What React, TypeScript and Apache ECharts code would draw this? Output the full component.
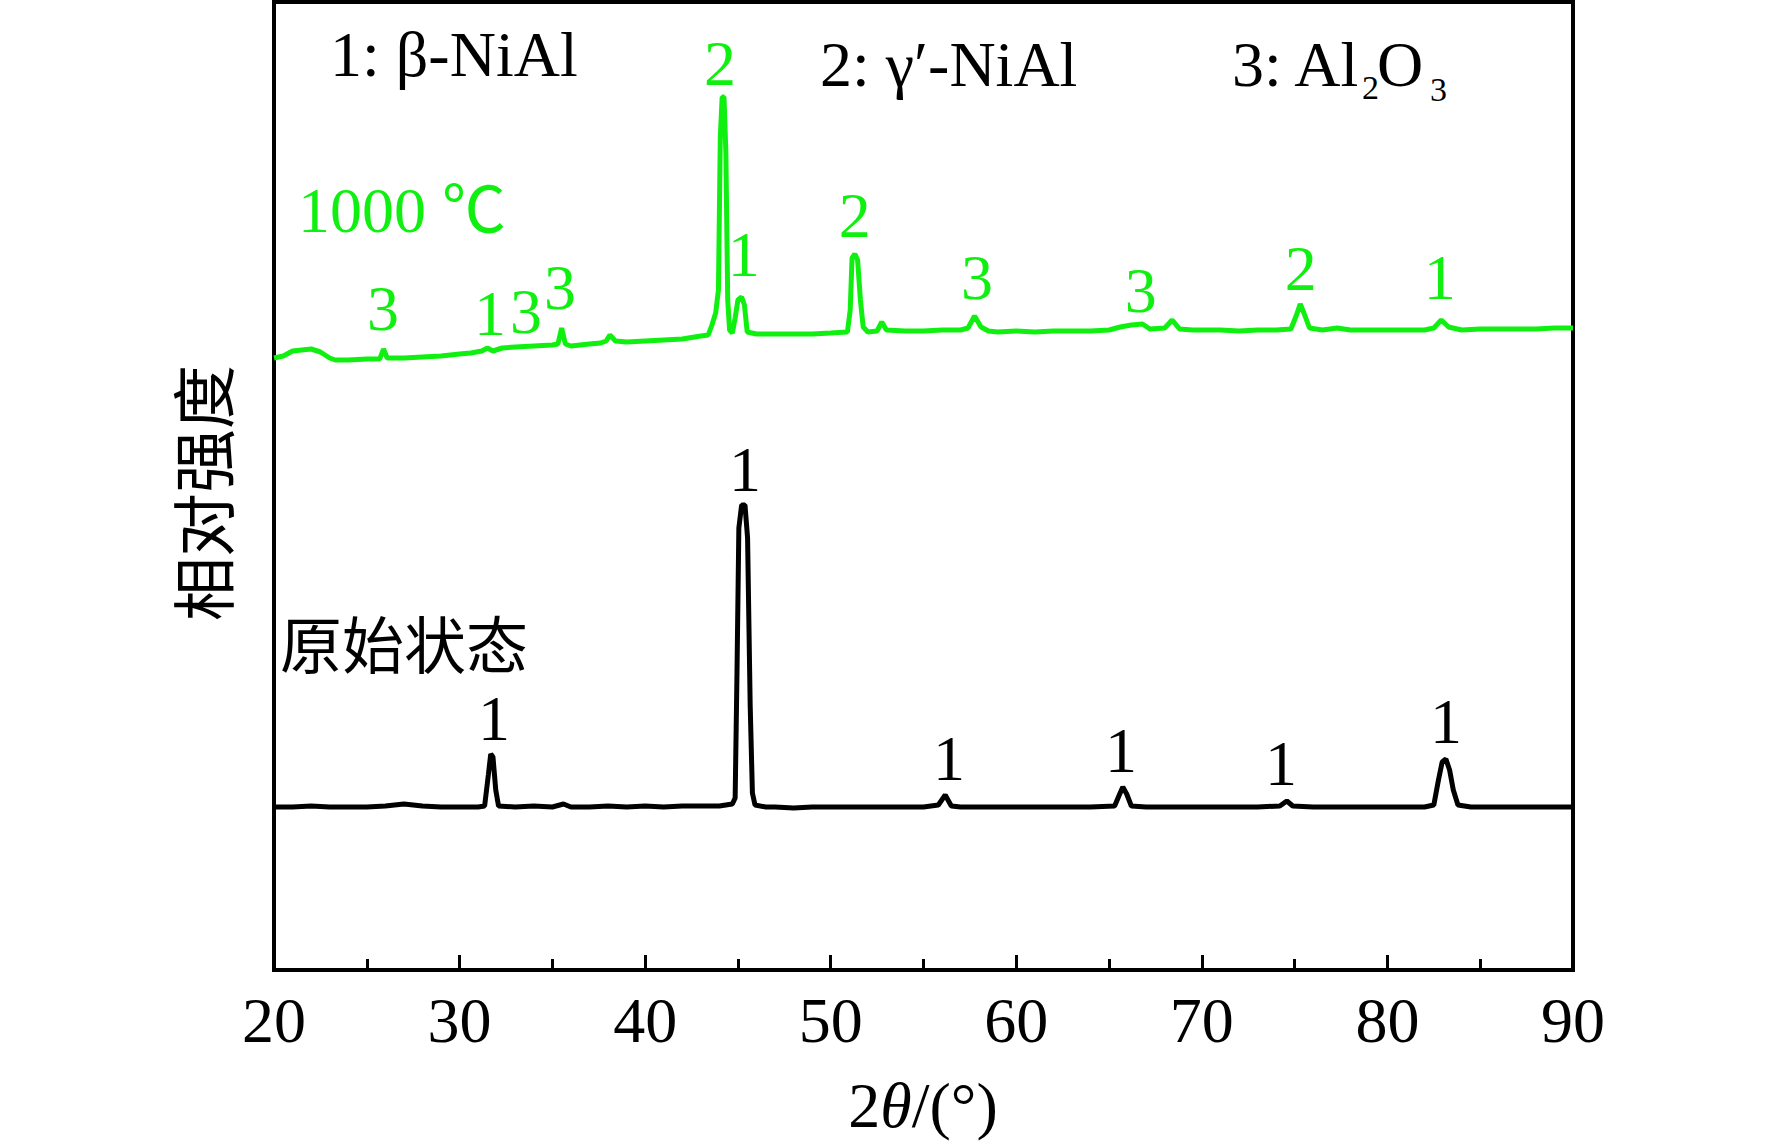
import React, { useEffect, useRef } from "react";
import * as echarts from "echarts";

// 2θ (degrees) and relative intensity (arbitrary units)
const green1000: [number, number][] = [
  [20.0, 612], [20.5, 614], [21.0, 619], [21.5, 620], [22.0, 621], [22.5, 618], [23.0, 612], [23.3, 610],
  [24.0, 610], [25.0, 611], [25.7, 611], [25.9, 621], [26.1, 612], [27.0, 612], [28.0, 613], [29.0, 614],
  [30.0, 616], [30.6, 617], [31.2, 619], [31.5, 622], [31.8, 619], [32.3, 622], [33.0, 623], [34.0, 624],
  [35.0, 625], [35.3, 626], [35.5, 642], [35.7, 626], [36.0, 624], [37.0, 626], [37.6, 627], [37.9, 629],
  [38.1, 635], [38.4, 629], [39.0, 628], [40.0, 629], [41.0, 630], [42.0, 631], [43.0, 634], [43.4, 635],
  [43.6, 645], [43.8, 657], [43.95, 680], [44.05, 833], [44.15, 873], [44.25, 873], [44.35, 818],
  [44.45, 670], [44.55, 640], [44.7, 637], [44.85, 652], [45.0, 670], [45.2, 673], [45.35, 665],
  [45.5, 638], [46.0, 636], [47.0, 636], [48.0, 636], [49.0, 636], [50.0, 637], [50.9, 638],
  [51.05, 660], [51.15, 712], [51.3, 716], [51.45, 710], [51.6, 670], [51.75, 643], [52.0, 638],
  [52.5, 639], [52.75, 648], [53.0, 640], [54.0, 639], [55.0, 639], [56.0, 640], [57.0, 640],
  [57.4, 642], [57.75, 654], [58.1, 643], [58.5, 639], [59.0, 638], [60.0, 639], [61.0, 638],
  [62.0, 639], [63.0, 639], [64.0, 639], [65.0, 640], [65.6, 643], [66.2, 645], [66.8, 646],
  [67.2, 641], [68.0, 642], [68.4, 650], [68.8, 641], [69.5, 640], [70.0, 640], [71.0, 640],
  [72.0, 639], [73.0, 640], [74.0, 640], [74.8, 641], [75.1, 655], [75.3, 666], [75.5, 657],
  [75.8, 642], [76.5, 640], [77.3, 642], [78.0, 640], [79.0, 640], [80.0, 640], [81.0, 640],
  [82.0, 640], [82.5, 642], [82.9, 650], [83.3, 643], [84.0, 640], [85.0, 641], [86.0, 641],
  [87.0, 641], [88.0, 641], [89.0, 642], [90.0, 642],
];

const blackOriginal: [number, number][] = [
  [20.0, 163], [21.0, 163], [22.0, 164], [23.0, 163], [24.0, 163], [25.0, 163], [26.0, 164],
  [27.0, 166], [27.5, 165], [28.0, 164], [29.0, 163], [30.0, 163], [31.0, 163], [31.35, 164],
  [31.55, 195], [31.68, 216], [31.8, 213], [31.95, 180], [32.1, 164], [33.0, 163], [34.0, 164],
  [35.0, 163], [35.6, 166], [36.0, 163], [37.0, 163], [38.0, 164], [39.0, 163], [40.0, 164],
  [41.0, 163], [42.0, 164], [43.0, 164], [44.0, 164], [44.7, 166], [44.85, 172], [44.95, 298],
  [45.05, 442], [45.2, 465], [45.38, 465], [45.52, 432], [45.66, 265], [45.78, 177], [45.92, 165],
  [46.5, 163], [47.0, 163], [48.0, 162], [49.0, 163], [50.0, 163], [51.0, 163], [52.0, 163],
  [53.0, 163], [54.0, 163], [55.0, 163], [55.8, 165], [56.17, 175], [56.5, 164], [57.0, 163],
  [58.0, 163], [59.0, 163], [60.0, 163], [61.0, 163], [62.0, 163], [63.0, 163], [64.0, 163],
  [65.3, 164], [65.55, 175], [65.74, 183], [65.95, 176], [66.2, 164], [67.0, 163], [68.0, 163],
  [69.0, 163], [70.0, 163], [71.0, 163], [72.0, 163], [73.0, 163], [74.2, 164], [74.58, 169],
  [74.9, 164], [76.0, 163], [77.0, 163], [78.0, 163], [79.0, 163], [80.0, 163], [81.0, 163],
  [82.0, 163], [82.5, 165], [82.75, 190], [82.95, 208], [83.15, 211], [83.35, 200], [83.55, 180],
  [83.8, 165], [84.5, 163], [85.0, 163], [86.0, 163], [87.0, 163], [88.0, 163], [89.0, 163], [90.0, 163],
];

// peak phase labels: [2θ, intensity position, phase number]
const greenPeakLabels: [number, number, string][] = [
  [25.87, 662, "3"], [31.64, 657, "1"], [33.58, 659, "3"], [35.41, 683, "3"],
  [44.03, 907, "2"], [45.32, 716, "1"], [51.3, 755, "2"], [57.88, 693, "3"],
  [66.71, 680, "3"], [75.33, 702, "2"], [82.82, 693, "1"],
];
const blackPeakLabels: [number, number, string][] = [
  [31.85, 252, "1"], [45.38, 501, "1"], [56.37, 212, "1"], [65.64, 220, "1"],
  [74.26, 207, "1"], [83.15, 249, "1"],
];

const xTicks = { min: 20, max: 90, interval: 10 };
const legendTexts = ["1: β-NiAl", "2: γ′-NiAl", "3: Al"];
const curveNames = ["1000 ℃", "原始状态"];
const axisNames = { x: ["2", "θ", "/(°)"], y: "相对强度" };

const GREEN = "#10f010";
const SERIF = "'Liberation Serif', 'Times New Roman', serif";
const CJK = "'Noto Sans CJK SC', sans-serif";

export default function App() {
  const ref = useRef<HTMLDivElement>(null);
  useEffect(() => {
    if (!ref.current) return;
    const chart = echarts.init(ref.current, undefined, { renderer: "svg" });
    const labelSeries = (data: [number, number, string][], color: string) => ({
      type: "scatter",
      data: data.map((d) => ({ value: [d[0], d[1]], name: d[2] })),
      symbolSize: 2,
      itemStyle: { color: "rgba(0,0,0,0)" },
      silent: true,
      label: {
        show: true,
        position: "inside",
        formatter: (p: any) => p.name,
        fontSize: 64,
        lineHeight: 50,
        fontFamily: SERIF,
        color,
        textBorderWidth: 0,
        opacity: 1,
      },
      labelLayout: { hideOverlap: false },
      z: 5,
    });
    chart.setOption({
      animation: false,
      backgroundColor: "#fff",
      grid: {
        left: 274,
        right: 199,
        top: 2,
        bottom: 174,
        show: true,
        borderColor: "#000",
        borderWidth: 4,
        containLabel: false,
      },
      xAxis: {
        type: "value",
        min: xTicks.min,
        max: xTicks.max,
        interval: xTicks.interval,
        axisLine: { show: true, lineStyle: { color: "#000", width: 4 } },
        axisTick: { show: true, inside: true, length: 15, lineStyle: { color: "#000", width: 3 } },
        minorTick: { show: true, splitNumber: 2, length: 11, lineStyle: { color: "#000", width: 3 } },
        splitLine: { show: false },
        minorSplitLine: { show: false },
        axisLabel: { fontSize: 64, fontFamily: SERIF, color: "#000", margin: 18 },
      },
      yAxis: {
        type: "value",
        min: 0,
        max: 968,
        show: true,
        axisLine: { show: false },
        axisTick: { show: false },
        axisLabel: { show: false },
        splitLine: { show: false },
      },
      series: [
        {
          type: "line",
          data: green1000,
          showSymbol: false,
          lineStyle: { color: GREEN, width: 5 },
          itemStyle: { color: GREEN },
          z: 3,
        },
        {
          type: "line",
          data: blackOriginal,
          showSymbol: false,
          lineStyle: { color: "#000", width: 5 },
          itemStyle: { color: "#000" },
          z: 3,
        },
        labelSeries(greenPeakLabels, GREEN),
        labelSeries(blackPeakLabels, "#000"),
      ],
      graphic: [
        { type: "text", x: 330, y: 54, style: { text: legendTexts[0], fontSize: 64, fontFamily: SERIF, fill: "#000", align: "left", verticalAlign: "middle" } },
        { type: "text", x: 820, y: 64, style: { text: legendTexts[1], fontSize: 64, fontFamily: SERIF, fill: "#000", align: "left", verticalAlign: "middle" } },
        { type: "text", x: 1232, y: 64, style: { text: legendTexts[2], fontSize: 64, fontFamily: SERIF, fill: "#000", align: "left", verticalAlign: "middle" } },
        { type: "text", x: 1362, y: 87, style: { text: "2", fontSize: 34, fontFamily: SERIF, fill: "#000", align: "left", verticalAlign: "middle" } },
        { type: "text", x: 1377, y: 64, style: { text: "O", fontSize: 64, fontFamily: SERIF, fill: "#000", align: "left", verticalAlign: "middle" } },
        { type: "text", x: 1430, y: 89, style: { text: "3", fontSize: 34, fontFamily: SERIF, fill: "#000", align: "left", verticalAlign: "middle" } },
        { type: "text", x: 298, y: 210, style: { text: curveNames[0], fontSize: 64, fontFamily: SERIF + ", " + CJK, fill: GREEN, align: "left", verticalAlign: "middle" } },
        { type: "text", x: 280, y: 642, style: { text: curveNames[1], fontSize: 62, lineHeight: 62, fontFamily: CJK, fill: "#000", align: "left", verticalAlign: "middle" } },
        {
          type: "text",
          x: 923,
          y: 1105,
          style: {
            text: `{a|${axisNames.x[0]}}{b|${axisNames.x[1]}}{a|${axisNames.x[2]}}`,
            rich: {
              a: { fontSize: 64, fontFamily: SERIF, fill: "#000" },
              b: { fontSize: 64, fontFamily: SERIF, fontStyle: "italic", fill: "#000" },
            },
            align: "center",
            verticalAlign: "middle",
            fill: "#000",
          },
        },
        {
          type: "text",
          x: 200,
          y: 493,
          rotation: Math.PI / 2,
          style: { text: axisNames.y, fontSize: 64, fontFamily: CJK, fill: "#000", align: "center", verticalAlign: "middle" },
        },
      ],
    });
    return () => chart.dispose();
  }, []);
  return (
    <div
      ref={ref}
      style={{ position: "absolute", left: 0, top: 0, width: 1772, height: 1144 }}
    />
  );
}
